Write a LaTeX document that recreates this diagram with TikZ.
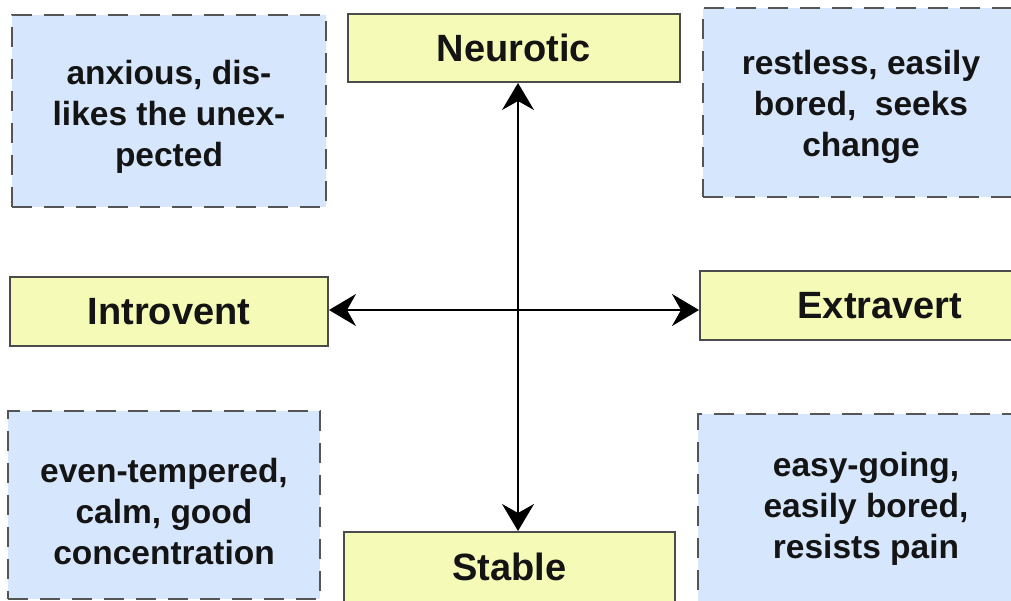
\documentclass[tikz,border=0pt]{standalone}
\usepackage{fontspec}
\setmainfont{Liberation Sans}
\usetikzlibrary{arrows.meta}
\definecolor{lblfill}{RGB}{245,251,182}
\definecolor{lbldraw}{RGB}{75,75,75}
\definecolor{notefill}{RGB}{214,230,252}
\definecolor{notedraw}{RGB}{85,85,85}
\definecolor{txt}{RGB}{20,20,20}
\tikzset{
  label box/.style={draw=lbldraw, line width=2pt, fill=lblfill, inner sep=0pt,
    text=txt, font=\fontsize{38}{44}\selectfont\bfseries},
  note box/.style={draw=notedraw, line width=2.8pt, fill=notefill, inner sep=0pt,
    dash pattern=on 20pt off 12pt},
  note text/.style={align=center, inner sep=0pt, text=txt,
    font=\fontsize{33.5}{41}\selectfont\bfseries},
  axis/.style={line width=2pt, black,
    {Stealth[length=27pt,width=32pt,inset=9pt]}-{Stealth[length=27pt,width=32pt,inset=9pt]}}
}
\begin{document}
\begin{tikzpicture}[x=1pt,y=-1pt]
\clip (0,0) rectangle (1011,601);
\fill[white] (0,0) rectangle (1011,601);
% note boxes
\node[note box, minimum width=314pt, minimum height=192pt] (tl) at (169,111) {};
\node[note text] (tlt) at ([yshift=-6pt]tl.center) {anxious, dis-\\likes the unex-\\pected};
\node[note box, minimum width=316pt, minimum height=189pt] (tr) at (861,102.5) {};
\node[note text] (trt) at ([yshift=-4pt]tr.center) {restless, easily\\bored,~ seeks\\change};
\node[note box, minimum width=312pt, minimum height=188pt] (bl) at (164,505) {};
\node[note text] (blt) at ([yshift=-7pt]bl.center) {even-tempered,\\calm, good\\concentration};
\node[note box, minimum width=336pt, minimum height=196pt] (br) at (866,512) {};
\node[note text] (brt) at ([yshift=3pt]br.center) {easy-going,\\easily bored,\\resists pain};
% label boxes
\node[label box, minimum width=332pt, minimum height=68pt] (neu) at (514,48) {Neurotic};
\node[label box, minimum width=318pt, minimum height=69pt] (intro) at (169,311.5) {Introvent};
\node[label box, minimum width=360pt, minimum height=69pt] (extra) at (880,305.5) {Extravert};
\node[label box, minimum width=331pt, minimum height=72pt] (stab) at (509.5,568) {\raisebox{3pt}{Stable}};
% axes
\coordinate (cross) at (518,310);
\draw[axis] (neu.south -| cross) -- (stab.north -| cross);
\draw[axis] (intro.east |- cross) -- (extra.west |- cross);
\end{tikzpicture}
\end{document}
